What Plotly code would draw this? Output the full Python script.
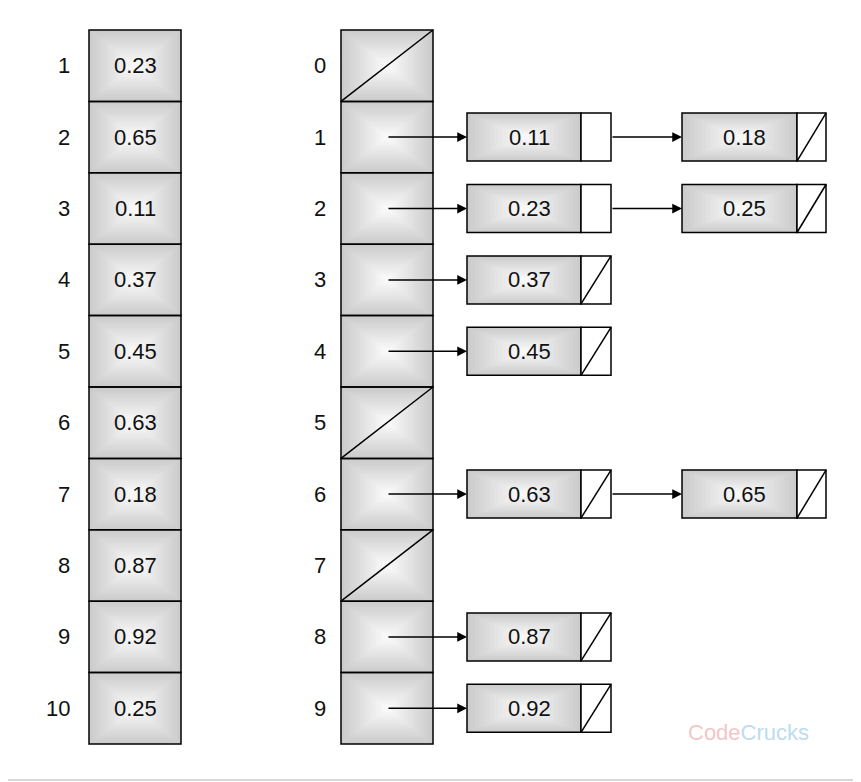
import plotly.graph_objects as go

input_labels = [str(i) for i in range(1, 11)]
input_values = ["0.23", "0.65", "0.11", "0.37", "0.45", "0.63", "0.18", "0.87", "0.92", "0.25"]
bucket_labels = [str(i) for i in range(10)]
buckets = [[], ["0.11", "0.18"], ["0.23", "0.25"], ["0.37"], ["0.45"], [], ["0.63", "0.65"], [], ["0.87"], ["0.92"]]
slashed_with_next = ["0.63"]

W, H = 861, 782
OFF = 8  # page body margin
top, rowh = 30, 71.4
shapes, ann = [], []
FONT = dict(family="Liberation Sans, Arial", size=22, color="#111")

def grad_rect(x0, y0, x1, y1):
    n = 14
    for k in range(n):
        t = k / (n - 1)
        v = int(0xcc + (0xf8 - 0xcc) * t)
        c = "#%02x%02x%02x" % (v, v, v)
        dx = (x1 - x0) * 0.48 * k / n
        dy = (y1 - y0) * 0.48 * k / n
        shapes.append(dict(type="rect", x0=x0 + dx, x1=x1 - dx, y0=y0 + dy, y1=y1 - dy,
                           fillcolor=c, line=dict(width=0), layer="below"))
    shapes.append(dict(type="rect", x0=x0, x1=x1, y0=y0, y1=y1, line=dict(color="black", width=1.5)))

def slash(x0, y0, x1, y1):
    shapes.append(dict(type="line", x0=x0, y0=y1, x1=x1, y1=y0, line=dict(color="black", width=1.5)))

shapes.append(dict(type="rect", x0=1, x1=W - 2, y0=1, y1=H - 2, line=dict(color="#cccccc", width=1.5)))

for i, (lab, v) in enumerate(zip(input_labels, input_values)):
    y0 = top + i * rowh; y1 = y0 + rowh; yc = (y0 + y1) / 2
    grad_rect(89, y0, 181, y1)
    ann.append(dict(x=135, y=yc, text=v, showarrow=False, font=FONT))
    ann.append(dict(x=72, y=yc, text=lab, showarrow=False, xanchor="right", font=FONT))

node_x = [(467, 581, 611), (682, 797, 826)]
for i, (lab, items) in enumerate(zip(bucket_labels, buckets)):
    y0 = top + i * rowh; y1 = y0 + rowh; yc = (y0 + y1) / 2
    grad_rect(341, y0, 433, y1)
    ann.append(dict(x=320, y=yc, text=lab, showarrow=False, font=FONT))
    if not items:
        slash(341, y0, 433, y1)
        continue
    ann.append(dict(x=467, y=yc, ax=387, ay=yc, xref="x", yref="y", axref="x", ayref="y",
                    text="", showarrow=True, arrowhead=2, arrowsize=1.3, arrowwidth=1.5,
                    arrowcolor="black"))
    for j, v in enumerate(items):
        a, b, c = node_x[j]
        ny0, ny1 = yc - 24, yc + 24
        grad_rect(a, ny0, b, ny1)
        shapes.append(dict(type="rect", x0=b, x1=c, y0=ny0, y1=ny1, fillcolor="white",
                           line=dict(color="black", width=1.5)))
        ann.append(dict(x=(a + b) / 2 + 5, y=yc, text=v, showarrow=False, font=FONT))
        if j == len(items) - 1 or v in slashed_with_next:
            slash(b, ny0, c, ny1)
        if j < len(items) - 1:
            ann.append(dict(x=node_x[j + 1][0], y=yc, ax=c, ay=yc, xref="x", yref="y",
                            axref="x", ayref="y", text="", showarrow=True, arrowhead=2,
                            arrowsize=1.3, arrowwidth=1.5, arrowcolor="black"))

ann.append(dict(x=748, y=732, text="<span style='color:#f4c6c6'>Code</span><span style='color:#bcdcf0'>Crucks</span>",
                showarrow=False, font=dict(family="Liberation Sans, Arial", size=22)))

fig = go.Figure()
fig.update_layout(width=W, height=H, margin=dict(l=0, r=0, t=0, b=0),
                  plot_bgcolor="white", paper_bgcolor="white", shapes=shapes, annotations=ann,
                  xaxis=dict(range=[OFF, W + OFF], visible=False, fixedrange=True),
                  yaxis=dict(range=[H + OFF, OFF], visible=False, fixedrange=True), showlegend=False)
fig.write_html("out.html")
